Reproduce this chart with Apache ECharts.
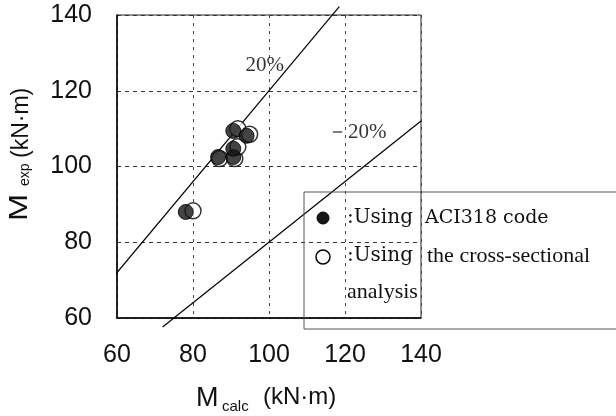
<!DOCTYPE html>
<html><head><meta charset="utf-8">
<script src="https://cdn.jsdelivr.net/npm/echarts@6/dist/echarts.min.js"></script>
<style>html,body{margin:0;padding:0;background:#fff}#c{width:616px;height:416px}</style>
</head><body><div id="c"></div>
<script>
// Data (kN·m)
const xTicks = [60, 80, 100, 120, 140];
const yTicks = [60, 80, 100, 120, 140];
const aciPoints = [[78.1,88.0],[86.6,102.5],[90.6,102.5],[90.6,104.7],[90.6,109.4],[94.1,108.1]];
const sectionalPoints = [[80.0,88.3],[87.0,102.1],[91.0,102.1],[91.8,105.2],[91.8,110.0],[94.9,108.5]];
const plus20Line = [[57.5,69.0],[118.5,142.2]];
const minus20Line = [[72.0,57.6],[140,112.0]];
const annotations = [{name:'20%', value:[98.9,126.7]}, {name:'－20%', value:[123.1,109.1]}];
const legendLabels = [':Using', 'ACI318 code', ':Using', 'the cross-sectional', 'analysis'];

const chart = echarts.init(document.getElementById('c'), null, {renderer:'canvas'});
const tickFont = {fontFamily:'"Liberation Sans",Arial,sans-serif', fontSize:25, color:'#111'};
const serif = '"Liberation Serif","Times New Roman",serif';
const mono = '"DejaVu Serif",serif';
const sans = '"Liberation Sans",Arial,sans-serif';
chart.setOption({
  animation:false,
  backgroundColor:'#fff',
  grid:{left:117, right:195, top:15, bottom:98, show:true, borderColor:'#222', borderWidth:1},
  xAxis:{type:'value', min:xTicks[0], max:xTicks[xTicks.length-1], interval:20,
    axisLine:{show:true, onZero:false, lineStyle:{color:'#000', width:1.5}},
    axisTick:{show:false},
    axisLabel:Object.assign({margin:25}, tickFont),
    splitLine:{show:true, lineStyle:{color:'#444', type:[3,5], width:1}}},
  yAxis:{type:'value', min:yTicks[0], max:yTicks[yTicks.length-1], interval:20,
    axisLine:{show:true, onZero:false, lineStyle:{color:'#000', width:1.5}},
    axisTick:{show:false},
    axisLabel:Object.assign({margin:25}, tickFont),
    splitLine:{show:true, lineStyle:{color:'#333', type:[4,4], width:1}}},
  series:[
    {type:'line', data:plus20Line, clip:false, symbol:'none', lineStyle:{color:'#000', width:1.2}, z:2},
    {type:'line', data:minus20Line, clip:false, symbol:'none', lineStyle:{color:'#000', width:1.2}, z:2},
    {type:'scatter', data:sectionalPoints, symbol:'circle', symbolSize:16,
      itemStyle:{color:'#fff', borderColor:'#000', borderWidth:1.5}, z:3},
    {type:'scatter', data:aciPoints, symbol:'circle', symbolSize:15,
      itemStyle:{color:'#151515', borderColor:'#000', borderWidth:1}, z:4},
    {type:'scatter', data:annotations, symbolSize:0, z:5,
      label:{show:true, position:'inside', formatter:p=>p.name, fontFamily:serif, fontSize:21, color:'#000'}}
  ],
  graphic:[
    // y-axis title (rotated)
    {type:'group', x:33, y:221, rotation:Math.PI/2, children:[
      {type:'text', x:0, y:0, scaleX:1.3, style:{text:'M', font:'25px '+sans, fill:'#111', textVerticalAlign:'bottom', textAlign:'left'}},
      {type:'text', x:35, y:-1, style:{text:'exp', font:'14px '+sans, fill:'#111', textVerticalAlign:'bottom', textAlign:'left'}},
      {type:'text', x:63, y:0, style:{text:'(kN·m)', font:'23px '+sans, fill:'#111', textVerticalAlign:'bottom', textAlign:'left'}}
    ]},
    // x-axis title
    {type:'text', left:196, top:385, style:{text:'M', font:'27px '+sans, fill:'#111'}},
    {type:'text', left:222, top:399, style:{text:'calc', font:'15px '+sans, fill:'#111'}},
    {type:'text', left:263, top:385, style:{text:'(kN·m)', font:'24px '+sans, fill:'#111'}},
    // legend box
    {type:'rect', shape:{x:304, y:192, width:330, height:137}, style:{fill:'none', stroke:'#555', lineWidth:1}, z:10},
    {type:'circle', shape:{cx:323, cy:218, r:6}, style:{fill:'#151515', stroke:'#000'}, z:10},
    {type:'circle', shape:{cx:323, cy:257, r:7}, style:{fill:'#fff', stroke:'#000', lineWidth:1.5}, z:10},
    {type:'text', x:347, y:218, style:{text:legendLabels[0], font:'20px '+mono, fill:'#111', textVerticalAlign:'middle'}, z:10},
    {type:'text', x:425, y:218, style:{text:legendLabels[1], font:'19px '+mono, fill:'#111', textVerticalAlign:'middle'}, z:10},
    {type:'text', x:347, y:256, style:{text:legendLabels[2], font:'20px '+mono, fill:'#111', textVerticalAlign:'middle'}, z:10},
    {type:'text', x:427, y:256, style:{text:legendLabels[3], font:'22px '+serif, fill:'#111', textVerticalAlign:'middle'}, z:10},
    {type:'text', x:347, y:292, style:{text:legendLabels[4], font:'22px '+serif, fill:'#111', textVerticalAlign:'middle'}, z:10}
  ]
});
</script></body></html>
